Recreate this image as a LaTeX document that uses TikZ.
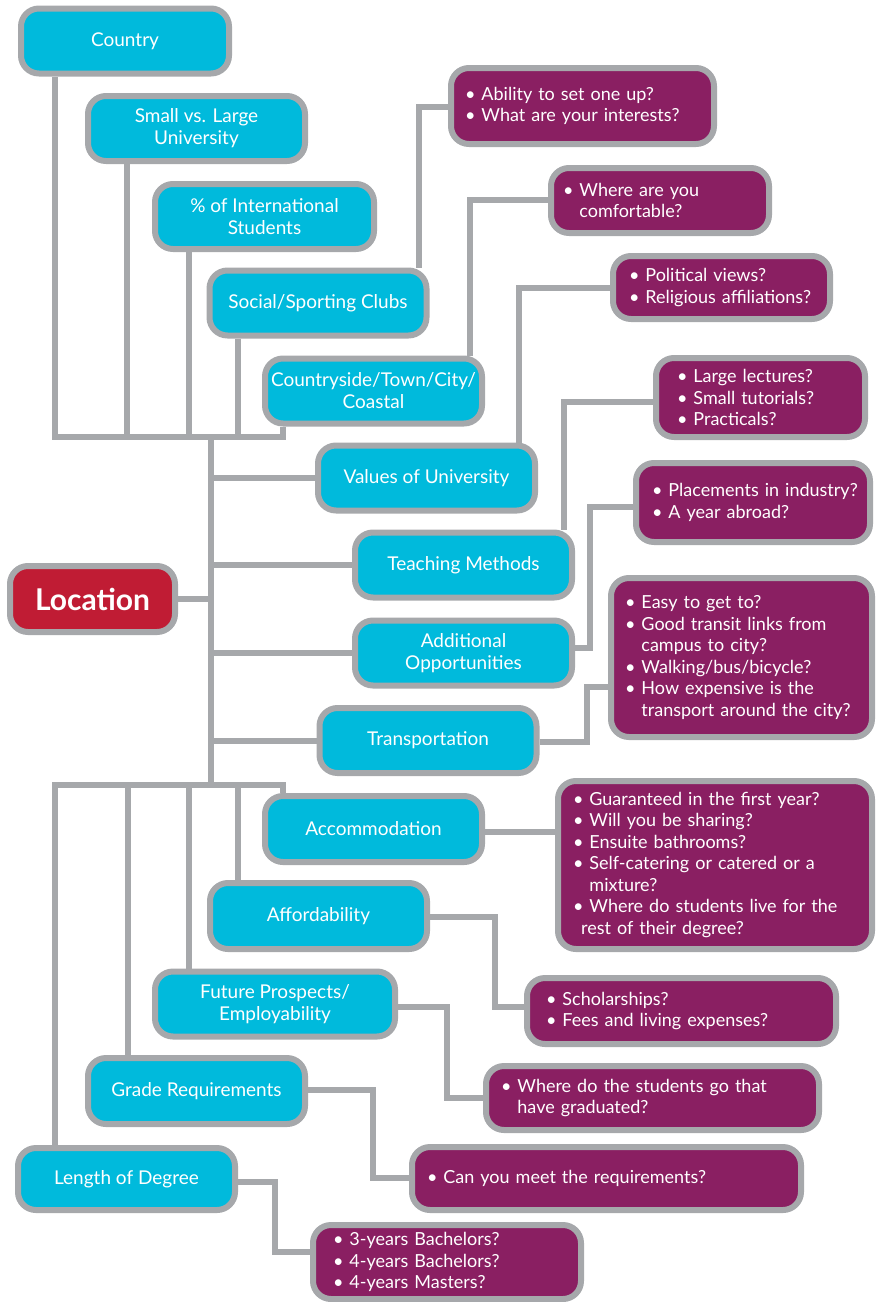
\documentclass[tikz,border=0pt]{standalone}
\usepackage{fontspec}
\setmainfont{Lato}
\usetikzlibrary{backgrounds}
\definecolor{cboxc}{HTML}{00BADC}
\definecolor{pboxc}{HTML}{8A1F62}
\definecolor{rboxc}{HTML}{C01C34}
\definecolor{lgray}{HTML}{A6A8AB}
\newcommand\itm[1]{\mbox{•\ #1}}
\newcommand\cnt[1]{\mbox{\phantom{•\ }#1}}
\tikzset{
  boxbase/.style={draw=lgray, line width=6pt, rounded corners=18pt, text=white, inner sep=0pt},
  cbox/.style={boxbase, fill=cboxc, align=center, minimum width=217pt, minimum height=65pt,
    font=\fontsize{19}{22}\selectfont},
  pbox/.style={boxbase, fill=pboxc, align=left, font=\fontsize{18}{21.5}\selectfont},
  rbox/.style={boxbase, fill=rboxc, font=\fontsize{30}{34}\bfseries\selectfont},
  conn/.style={draw=lgray, line width=6pt, line join=miter}
}
\begin{document}
\begin{tikzpicture}[x=1pt,y=-1pt]
\useasboundingbox (0,0) rectangle (879,1302);
% cyan boxes
\node[cbox, minimum width=208pt] (country) at (125,41) {Country};
\node[cbox] (small) at (196.5,128.5) {Small vs. Large\\University};
\node[cbox, minimum width=219pt] (intl) at (264.5,216.5) {\% of International\\Students};
\node[cbox] (social) at (318,303) {Social/Sporting Clubs};
\node[cbox] (cside) at (373.5,391) {Countryside/Town/City/\\Coastal};
\node[cbox] (values) at (426.5,478) {Values of University};
\node[cbox] (teaching) at (463.5,565) {Teaching Methods};
\node[cbox] (additional) at (463.5,653) {Additional\\Opportunities};
\node[cbox] (transport) at (428,740.5) {Transportation};
\node[cbox, minimum height=66pt] (accom) at (373.5,829) {Accommodation};
\node[cbox, minimum height=66pt] (afford) at (318.5,916) {Affordability};
\node[cbox, minimum width=240pt] (future) at (275,1004) {Future Prospects/\\Employability};
\node[cbox, minimum height=66pt] (grade) at (196.5,1091) {Grade Requirements};
\node[cbox, minimum height=62pt] (length) at (126.5,1179) {Length of Degree};
% location
\node[rbox, minimum width=165pt, minimum height=66pt] (location) at (92.5,599) {Location};
% purple boxes
\node[pbox, minimum width=263pt, minimum height=76pt, inner xsep=14pt, text width=235pt] (p1) at (582.5,106)
  {\itm{Ability to set one up?}\\\itm{What are your interests?}};
\node[pbox, minimum width=218pt, minimum height=65pt, inner xsep=12pt, text width=194pt] (p2) at (660,200.5)
  {\itm{Where are you}\\\cnt{comfortable?}};
\node[pbox, minimum width=217pt, minimum height=63pt, inner xsep=16pt, text width=185pt] (p3) at (721.5,287.5)
  {\itm{Political views?}\\\itm{Religious affiliations?}};
\node[pbox, minimum width=209pt, minimum height=79pt, inner xsep=21pt, text width=167pt] (p4) at (760.5,397.5)
  {\itm{Large lectures?}\\\itm{Small tutorials?}\\\itm{Practicals?}};
\node[pbox, minimum width=234pt, minimum height=79pt, inner xsep=16pt, text width=202pt] (p5) at (753,502.5)
  {\itm{Placements in industry?}\\\itm{A year abroad?}};
\node[pbox, minimum width=261pt, minimum height=159pt, inner xsep=14pt, text width=233pt] (p6) at (741.5,657.5)
  {\itm{Easy to get to?}\\\itm{Good transit links from}\\\cnt{campus to city?}\\\itm{Walking/bus/bicycle?}\\\itm{How expensive is the}\\\cnt{transport around the city?}};
\node[pbox, minimum width=314pt, minimum height=168pt, inner xsep=15pt, text width=284pt] (p7) at (715,865)
  {\itm{Guaranteed in the first year?}\\\itm{Will you be sharing?}\\\itm{Ensuite bathrooms?}\\\itm{Self-catering or catered or a}\\\cnt{mixture?}\\\itm{Where do students live for the}\\\mbox{\hspace{0.45em}rest of their degree?}};
\node[pbox, minimum width=309pt, minimum height=66pt, inner xsep=19pt, text width=271pt] (p8) at (681.5,1011)
  {\itm{Scholarships?}\\\itm{Fees and living expenses?}};
\node[pbox, minimum width=333pt, minimum height=64pt, inner xsep=15pt, text width=303pt] (p9) at (652.5,1098)
  {\itm{Where do the students go that}\\\cnt{have graduated?}};
\node[pbox, minimum width=389pt, minimum height=63pt, inner xsep=15pt, text width=359pt] (p10) at (606.5,1178.5)
  {\itm{Can you meet the requirements?}};
\node[pbox, minimum width=268pt, minimum height=74pt, inner xsep=20pt, text width=228pt] (p11) at (447,1262)
  {\itm{3-years Bachelors?}\\\itm{4-years Bachelors?}\\\itm{4-years Masters?}};
% junction coordinates
\coordinate (tl) at (55,437);
\coordinate (tr) at (283,437);
\coordinate (tt) at (211,437);
\coordinate (bl) at (55,785);
\coordinate (br) at (283,785);
\coordinate (tb) at (211,785);
\begin{scope}[on background layer]
  % top group
  \draw[conn] (country.south -| tl) |- (tr) -- (tr |- cside.south);
  \draw[conn] (small.south -| 127,0) -- (127,0 |- tl);
  \draw[conn] (intl.south -| 189,0) -- (189,0 |- tl);
  \draw[conn] (social.south -| 238,0) -- (238,0 |- tl);
  % trunk
  \draw[conn] (tt) -- (tb);
  \draw[conn] (tt |- values) -- (values);
  \draw[conn] (tt |- teaching) -- (teaching);
  \draw[conn] (tt |- additional) -- (additional);
  \draw[conn] (tt |- transport) -- (transport);
  \draw[conn] (location) -- (tt |- location);
  % bottom group
  \draw[conn] (length.north -| bl) |- (br) -- (br |- accom.north);
  \draw[conn] (grade.north -| 128,0) -- (128,0 |- bl);
  \draw[conn] (future.north -| 189,0) -- (189,0 |- bl);
  \draw[conn] (afford.north -| 238,0) -- (238,0 |- bl);
  % to purple boxes
  \draw[conn] (social.north -| 419,0) |- (p1.west |- 0,107);
  \draw[conn] (cside.north -| 470,0) |- (p2.west |- 0,200);
  \draw[conn] (values.north -| 519,0) |- (p3.west |- 0,288);
  \draw[conn] (teaching.north -| 564,0) |- (p4.west |- 0,402);
  \draw[conn] (additional.east |- 0,648) -| (590,507) -- (p5.west |- 0,507);
  \draw[conn] (transport.east |- 0,742) -| (587,687) -- (p6.west |- 0,687);
  \draw[conn] (accom.east |- 0,832) -- (p7.west |- 0,832);
  \draw[conn] (afford.east |- 0,917) -| (495,1007) -- (p8.west |- 0,1007);
  \draw[conn] (future.east |- 0,1007) -| (447,1098) -- (p9.west |- 0,1098);
  \draw[conn] (grade.east |- 0,1090) -| (373,1178) -- (p10.west |- 0,1178);
  \draw[conn] (length.east |- 0,1182) -| (275,1252) -- (p11.west |- 0,1252);
\end{scope}
\end{tikzpicture}
\end{document}
